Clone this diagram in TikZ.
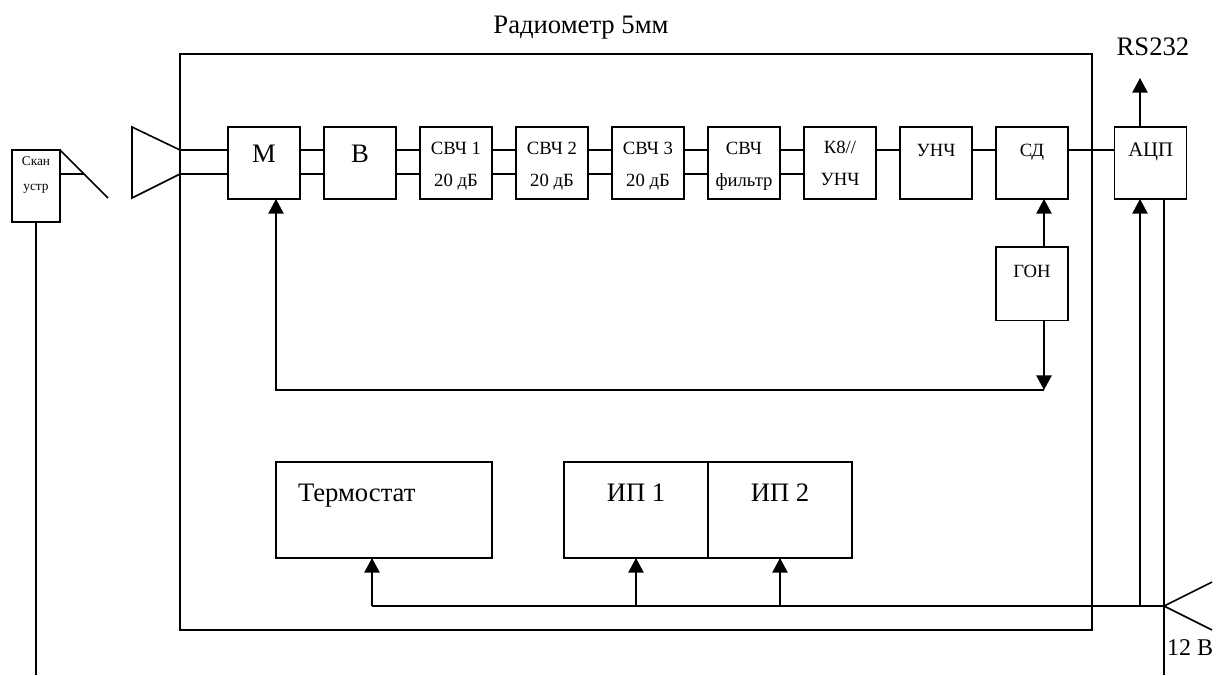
\documentclass[tikz,border=0pt]{standalone}
\usepackage{fontspec}
\setmainfont{Liberation Serif}
\usepackage{tikz}
\usetikzlibrary{arrows.meta,positioning,calc}
\newcommand{\lowstrut}{\rule{0pt}{14.5pt}}

\begin{document}
\begin{tikzpicture}[
    x=0.75pt, y=-0.75pt,
    line width=1.2pt,
    node distance=18pt and 18pt,
    box1/.style={rectangle, draw, inner sep=0pt, outer sep=0pt, align=center, minimum height=54pt, minimum width=54pt, font=\fontsize{14}{24}\selectfont},
    box2/.style={box1, font=\fontsize{20}{14}\selectfont},
    box3/.style={box1, minimum height=72pt, font=\fontsize{20}{26}\selectfont},
    arrow/.style={-{Triangle[length=11pt,width=11.5pt]}},
    plain/.style={inner sep=0pt, outer sep=0pt, font=\fontsize{20}{24}\selectfont}
]
    \useasboundingbox (0,0) rectangle (1216,675);

    % outer case and levels of the double lines
    \node [draw, inner sep=0pt, outer sep=0pt, minimum width=684pt, minimum height=432pt, anchor=north west] (case) at (180,54) {};
    \coordinate (top) at (0,150);
    \coordinate (bot) at (0,174);

    % signal chain
    \node [box2, anchor=north west] (m) at (228,127) {М\\~};
    \node [box2, right=of m] (v) {В\\~};
    \node [box1, right=of v] (s1) {\lowstrut СВЧ 1\\20 дБ};
    \node [box1, right=of s1] (s2) {\lowstrut СВЧ 2\\20 дБ};
    \node [box1, right=of s2] (s3) {\lowstrut СВЧ 3\\20 дБ};
    \node [box1, right=of s3] (flt) {\lowstrut СВЧ\\фильтр};
    \node [box1, right=of flt] (k8) {К8//\\УНЧ};
    \node [box1, right=of k8] (unch) {\lowstrut УНЧ\\~};
    \node [box1, right=of unch] (sd) {\lowstrut СД\\~};
    \node [box1, right=35pt of sd, font=\fontsize{15.5}{24}\selectfont] (adc) {\lowstrut АЦП\\~};
    \node [box1, below=36pt of sd, minimum height=55pt] (gon) {\lowstrut ГОН\\~};

    % lower blocks
    \node [box3, anchor=north west, minimum width=162pt, text width=129pt, align=left] (therm) at (276,462) {Термостат\\~};
    \node [box3, anchor=north west, minimum width=108pt] (ip1) at (564,462) {ИП 1\\~};
    \node [box3, right=0pt of ip1, minimum width=108pt] (ip2) {ИП 2\\~};

    % scanner with mirror
    \node [box1, anchor=north west, minimum width=36pt, font=\fontsize{10}{18.75}\selectfont] (scan) at (12,150) {Скан\\устр\\~};
    \coordinate (mir1) at (scan.north east);
    \coordinate (mir2) at (108,198);
    \coordinate (mir3) at (84,174);
    \coordinate (scanend) at (36,675);
    \draw (mir1) -- (mir2);
    \draw (scan.east |- bot) -- (mir3);
    \draw (scan.south) -- (scanend);

    % horn
    \coordinate (h1) at (132,127);
    \coordinate (h2) at (180,150);
    \coordinate (h3) at (180,174);
    \coordinate (h4) at (132,198);
    \draw (h2) -- (h1) -- (h4) -- (h3);

    % double lines
    \draw (h2) -- (m.west |- top);
    \draw (h3) -- (m.west |- bot);
    \foreach \a/\b in {m/v, v/s1, s1/s2, s2/s3, s3/flt, flt/k8} {
        \draw (\a.east |- top) -- (\b.west |- top);
        \draw (\a.east |- bot) -- (\b.west |- bot);
    }
    % single lines
    \foreach \a/\b in {k8/unch, unch/sd, sd/adc} {
        \draw (\a.east |- top) -- (\b.west |- top);
    }

    % output
    \node [plain] (rs) at (1153,47) {RS232};
    \coordinate (rsend) at (1140,78);
    \draw [arrow] (rsend |- adc.north) -- (rsend);
    \node [plain] (title) at (581,28) {Радиометр 5мм};

    % reference generator
    \coordinate (fbr) at (1044,390);
    \coordinate (fbl) at (276,390);
    \draw [arrow] (fbr |- gon.north) -- (fbr |- sd.south);
    \draw [arrow] (fbr |- gon.south) -- (fbr);
    \draw [arrow] (fbr) -- (fbl) -- (fbl |- m.south);

    % power bus
    \coordinate (busl) at (372,606);
    \coordinate (bus1) at (636,606);
    \coordinate (bus2) at (780,606);
    \coordinate (bus3) at (1140,606);
    \coordinate (busr) at (1164,606);
    \coordinate (fk1) at (1212,582);
    \coordinate (fk2) at (1212,630);
    \coordinate (adcend) at (1164,675);
    \draw (busl) -- (busr);
    \draw (fk1) -- (busr) -- (fk2);
    \draw [arrow] (busl) -- (busl |- therm.south);
    \draw [arrow] (bus1) -- (bus1 |- ip1.south);
    \draw [arrow] (bus2) -- (bus2 |- ip2.south);
    \draw [arrow] (bus3) -- (bus3 |- adc.south);
    \draw (adcend |- adc.south) -- (adcend);
    \node [plain, anchor=west, font=\fontsize{18}{24}\selectfont] (volt) at (1167,648) {12 В};
\end{tikzpicture}
\end{document}
